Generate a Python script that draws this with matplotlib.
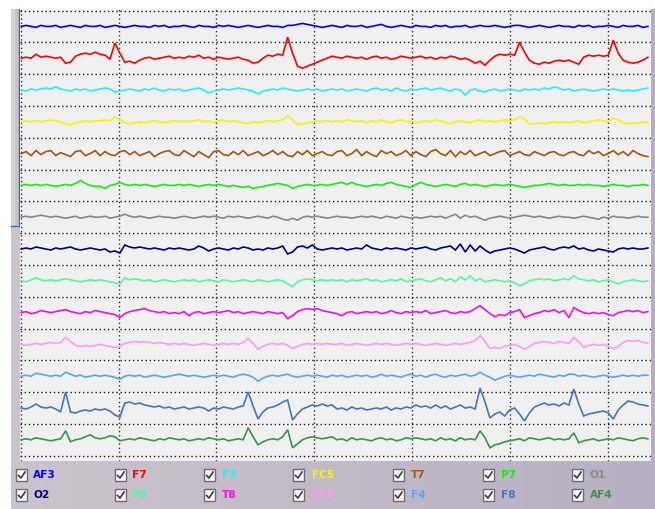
import numpy as np
import matplotlib
matplotlib.use("Agg")
import matplotlib.pyplot as plt
from matplotlib.patches import Rectangle
from matplotlib.lines import Line2D

# ---------------- data (deviation of each trace from its baseline, in display units) ----------------
channels = ["AF3", "F7", "F3", "FC5", "T7", "P7", "O1",
            "O2", "P8", "T8", "FC6", "F4", "F8", "AF4"]
colors = ["#0000ff", "#ff0000", "#22eeff", "#f5f500", "#a5560f", "#11ee11", "#888888",
          "#000088", "#55f5a5", "#f010e8", "#ff99f5", "#55a5ff", "#4477bb", "#339944"]

AF3 = [0,1,0,-1,1,0,0,1,-1,0,1,0,-1,1,0,0,
       1,-1,0,1,0,-1,0,1,0,0,-1,1,0,1,-1,0,
       0,1,0,-1,1,0,0,-1,1,0,1,0,-1,0,1,0,
       -1,0,1,0,0,-1,1,1,2,3,2,1,0,-1,0,1,
       0,-1,1,0,0,1,-1,0,1,2,0,-1,0,1,0,-1,
       1,0,0,-1,1,0,1,-1,0,0,1,-1,0,1,0,0,
       1,0,-1,0,1,1,0,-1,0,1,0,-1,0,1,0,0,
       -1,1,0,1,-1,0,0,1,0,-1,1,0,0,1,-1,0]
F7 = [0,1,0,4,1,2,1,0,1,-5,-4,2,4,5,4,6,
      4,3,-1,15,5,-4,-3,-5,-2,0,1,-1,0,1,2,0,
      1,0,2,1,3,0,1,-1,1,0,-1,0,1,-1,-2,-5,
      -4,0,3,2,4,3,21,5,-8,-10,-8,-6,-4,-2,0,2,
      1,0,2,1,0,1,-1,1,2,0,1,-1,0,2,1,0,
      1,2,0,1,-1,1,0,2,1,-1,0,-2,-5,-3,-7,-2,
      2,4,3,4,3,16,6,-2,-5,-6,-4,-5,-3,-2,-3,-2,
      -4,-6,1,3,2,3,2,3,18,5,-2,-4,-5,-4,-2,1]
F3 = [0,-1,1,0,1,2,1,3,1,0,-1,1,0,1,-1,0,
      1,2,1,-2,-1,0,1,0,-1,1,0,2,0,-1,1,0,
      1,-1,0,1,2,0,-3,-1,0,1,0,1,2,1,0,-1,
      -4,-1,0,1,0,2,1,0,-1,0,1,0,1,-1,0,1,
      0,1,-1,0,1,0,-1,1,2,0,1,-1,2,0,-1,1,
      0,1,2,0,1,2,0,-1,1,0,-5,0,1,-1,-2,0,
      1,-1,0,1,0,-1,1,0,1,0,2,1,3,2,0,1,
      -1,0,1,0,-1,0,1,0,1,0,-1,0,-1,0,1,2]
FC5 = [0,1,0,1,0,1,2,1,0,-2,-3,-1,0,1,0,1,
       1,2,1,5,2,-1,-2,-1,0,-1,0,1,0,-1,0,1,
       0,1,0,1,2,0,1,-1,1,2,0,1,0,-1,-2,0,
       -1,0,1,0,1,2,6,2,-3,-2,-1,0,1,0,1,0,
       1,0,2,1,0,1,-1,1,0,2,0,-1,1,2,0,1,
       -1,0,1,0,2,1,-1,-2,0,1,0,-1,1,2,0,1,
       0,1,2,1,2,5,3,-2,-2,-1,-2,-1,0,-1,0,-1,
       0,1,-1,0,1,2,1,0,4,2,-1,-2,-1,-2,0,-1]
T7 = [0,2,-2,3,-1,2,3,-2,1,-1,-3,2,3,-2,0,3,
      -2,2,-1,-2,2,3,-1,2,-2,0,2,-3,0,2,3,-1,
      -2,3,0,-3,2,-1,-4,2,3,-1,-2,2,-1,3,-2,0,
      2,-2,0,3,-1,2,-2,-3,2,-1,3,-2,0,2,-1,-2,
      2,3,-2,0,4,-2,2,-1,-3,3,0,2,-2,0,3,-2,
      2,-1,-3,2,4,0,-2,3,-3,2,-1,3,-2,0,2,-2,
      0,2,3,-2,0,2,-1,-2,2,0,-2,1,2,-1,-2,1,
      2,-1,-2,3,0,2,-2,0,3,-1,2,-2,3,0,-2,-3]
P7 = [0,1,0,1,0,1,0,-1,0,1,0,2,5,2,0,-1,
      -1,-3,0,1,3,1,0,1,0,1,0,-1,0,1,0,0,
      1,0,1,0,-1,0,1,0,1,0,-1,0,-1,-2,-1,-3,
      -2,-1,0,1,2,1,0,-3,-1,0,1,0,0,1,0,1,
      2,3,1,3,1,0,-1,0,1,0,2,3,1,0,-1,-2,
      1,3,1,0,-1,0,1,0,-1,1,2,0,1,0,-1,0,
      1,0,0,1,0,-1,-2,-1,0,0,1,2,1,0,1,0,
      0,1,0,1,0,0,-1,0,1,0,0,-1,0,0,1,0]
O1 = [0,1,0,1,2,1,0,1,0,-1,0,1,-1,0,1,0,
      0,1,-1,0,1,3,1,0,1,0,-1,0,1,0,0,-1,
      0,1,0,-1,0,1,0,1,0,-1,1,0,1,0,-1,0,
      1,0,-1,1,0,-2,-3,-1,-3,0,1,0,1,0,-1,0,
      1,0,0,-1,0,1,0,1,0,-1,1,0,-1,1,0,-1,
      0,-1,0,1,0,1,-1,1,3,-1,2,0,1,-1,-3,-1,
      0,1,0,-1,0,1,2,1,0,1,0,-1,0,1,0,0,
      -1,0,1,0,-1,-2,0,-1,1,0,0,-1,0,1,0,0]
O2 = [0,1,0,2,1,0,-1,1,0,1,2,0,-1,0,1,0,
      -1,0,-3,-2,-4,4,2,1,2,1,0,1,0,-1,1,0,
      1,0,-1,0,3,1,-2,0,1,0,-1,1,0,2,1,-1,
      0,-1,1,0,1,3,-5,-3,2,3,1,4,0,-1,0,1,
      0,1,-1,0,1,0,4,1,0,-1,1,0,1,0,-1,1,
      0,1,2,0,-1,1,2,3,-1,5,-3,4,-2,3,-1,-4,
      -2,-1,0,1,0,-2,-4,-1,0,1,2,0,-1,1,2,1,
      3,0,1,-1,-2,0,-1,-2,-3,0,1,0,1,0,0,1]
P8 = [0,-1,1,3,1,0,1,0,1,2,1,0,-1,0,1,0,
      1,0,-1,-2,-3,3,1,2,1,0,1,-1,0,1,0,-1,
      0,1,0,1,-1,0,1,0,-1,1,0,-1,0,1,0,-1,
      1,0,-1,0,1,0,-3,-6,-1,1,2,1,0,1,0,1,
      0,1,-1,1,0,1,2,0,1,-1,0,1,0,2,-1,0,
      1,2,0,-1,1,3,0,2,-1,4,1,5,0,2,-1,0,
      1,0,-1,0,-2,-5,-3,0,1,2,1,2,0,1,2,1,
      5,2,1,0,1,-1,0,1,-1,-3,-1,0,1,0,-1,0]
T8 = [0,1,-1,0,2,1,0,1,2,3,1,0,-1,1,0,2,
      1,0,-1,-2,-5,-1,1,2,3,4,2,1,0,1,-1,0,
      -1,1,-3,0,1,-1,0,1,0,1,2,0,1,-1,0,1,
      0,-1,1,0,-1,0,-6,-3,1,3,4,3,4,2,1,0,
      -1,-3,0,1,-1,0,1,0,1,-1,0,2,0,-1,1,0,
      1,0,2,-1,0,1,2,0,-1,1,0,1,4,7,3,-1,
      -4,-2,-3,0,1,3,-5,-3,-1,0,2,1,3,0,2,-5,
      5,2,0,-1,0,-1,0,-2,-3,0,1,2,1,2,0,1]
FC6 = [0,-1,0,1,0,1,2,1,2,7,3,-1,-2,-1,-2,-1,
       0,-1,-2,-3,-2,1,2,3,2,3,2,1,2,1,0,1,
       0,1,0,-1,0,1,0,-1,0,1,0,1,0,2,6,1,
       -5,-2,0,1,0,1,-1,-4,-2,0,1,0,1,0,1,0,
       0,1,-1,0,1,0,-1,0,1,0,1,0,-1,0,1,0,
       1,0,-1,0,1,0,-1,0,1,0,1,2,4,9,3,-4,
       -3,-4,-2,-1,0,-2,-5,-2,1,2,3,2,1,3,2,1,
       7,3,-3,-1,0,-1,0,-2,-4,-2,2,4,3,4,2,1]
F4 = [0,1,0,3,2,1,0,1,0,4,2,0,1,-1,0,1,
      0,1,0,-1,-3,0,1,0,1,-1,0,1,0,-1,0,1,
      2,1,0,1,0,-1,0,1,0,1,0,-1,1,2,1,-1,
      -5,-2,0,1,0,1,2,0,-1,0,1,0,1,0,-1,1,
      0,1,-1,0,1,0,1,-1,0,2,0,1,0,-1,1,2,
      0,1,-1,1,2,0,-1,1,0,1,2,0,1,4,1,-1,
      -4,-2,0,1,0,-1,0,1,0,2,1,0,-1,1,0,2,
      2,0,1,0,-1,0,1,0,-1,0,1,0,1,0,1,1]
F8 = [0,-1,1,4,1,0,1,-1,-4,16,-4,-5,-3,-2,-3,-1,
      -2,-1,-3,-7,-9,5,6,4,5,3,2,1,2,0,1,-1,
      0,1,-1,0,1,0,-3,0,-1,1,0,-1,1,2,16,2,
      -11,-4,0,1,3,6,8,-12,-6,-1,1,3,2,4,2,3,
      -1,0,-2,1,-1,0,-2,-1,0,-1,1,-2,0,-1,1,0,
      3,1,2,0,3,0,2,-1,1,3,0,1,-1,20,6,-10,
      -6,-4,-8,-2,0,-6,-13,-5,1,3,5,3,4,2,5,3,
      19,4,-8,-6,-5,-4,-3,-5,-11,-2,3,7,6,4,3,2]
AF4 = [0,1,0,2,1,0,-1,0,1,9,-2,0,1,3,5,2,
       1,2,4,3,-1,0,1,0,2,1,0,-1,1,0,2,1,
       0,1,-1,0,1,0,2,1,0,1,-1,0,1,0,12,3,
       -5,-2,0,1,0,3,10,-8,-4,0,2,3,2,1,2,3,
       0,1,-1,2,0,1,0,-1,1,2,0,1,-1,0,2,1,
       2,1,0,1,-1,2,0,1,-1,2,0,1,0,9,2,-8,
       -5,-4,-2,-1,0,1,-1,2,1,0,1,2,0,1,0,1,
       7,-3,-1,0,1,-1,0,1,0,2,1,0,-1,1,2,1]

series = [AF3, F7, F3, FC5, T7, P7, O1, O2, P8, T8, FC6, F4, F8, AF4]
legend_rows = [channels[:7], channels[7:]]

# ---------------- figure ----------------
W, H = 655, 509
fig = plt.figure(figsize=(W / 100, H / 100), dpi=100)
fig.patch.set_facecolor("white")

def fx(px):
    return px / W

def fy(py):
    return 1 - py / H

# background gradient (window frame)
bg = fig.add_axes([0, 0, 1, 1], zorder=-10)
grad = np.linspace(0, 1, 256)[None, :]
c0 = np.array([0.80, 0.77, 0.80])
c1 = np.array([0.72, 0.69, 0.76])
img = c0[None, None, :] * (1 - grad[..., None]) + c1[None, None, :] * grad[..., None]
bg.imshow(img, aspect="auto", extent=[0, 1, 0, 1])
bg.set_xlim(0, 1); bg.set_ylim(0, 1)
bg.axis("off")

def rect_px(x0, y0, x1, y1, **kw):
    r = Rectangle((fx(x0), fy(y1)), fx(x1) - fx(x0), fy(y0) - fy(y1),
                  transform=fig.transFigure, **kw)
    fig.add_artist(r)
    return r

# white top strip and left strip
rect_px(0, 0, W, 9, facecolor="white", edgecolor="none", zorder=1)
rect_px(0, 0, 11, H, facecolor="white", edgecolor="none", zorder=1)
# scrollbar thumb
rect_px(11, 9, 18, 226, facecolor="#c6c6c6", edgecolor="none", zorder=1)
rect_px(11, 9, 15, 226, facecolor="#d4d4d4", edgecolor="none", zorder=1)
fig.add_artist(Line2D([fx(18.5), fx(18.5)], [fy(9), fy(226)], color="#3f6db5", lw=1.0,
                      transform=fig.transFigure, zorder=2))
fig.add_artist(Line2D([fx(11), fx(18.5)], [fy(225.5), fy(225.5)], color="#3f6db5", lw=1.0,
                      transform=fig.transFigure, zorder=2))

# ---------------- plot area ----------------
ax_left, ax_right, ax_top, ax_bot = 20, 651, 9, 461
ax = fig.add_axes([fx(ax_left), fy(ax_bot), fx(ax_right) - fx(ax_left), fy(ax_top) - fy(ax_bot)], zorder=5)
ax.set_facecolor("#f0f0f0")

px_per_sec = 97.9
band = 31.8
first_grid = 10.5  # pixel row of first horizontal grid line
x_max = (ax_right - ax_left - 0.7) / px_per_sec
ax.set_xlim(-0.007, x_max)
ax.set_ylim(ax_bot - ax_top, 0)  # pixel units, downward

grid_rows = [first_grid - ax_top + k * band for k in range(15)]
for gy in grid_rows:
    ax.axhline(gy, color="#1a1a1a", lw=1.0, ls=(0, (1, 2)), zorder=1)
for gx in range(7):
    ax.axvline(gx, color="#333333", lw=1.0, ls=(0, (1, 2)), zorder=1)

step = 0.0504
for k, (vals, col) in enumerate(zip(series, colors)):
    v = np.asarray(vals, dtype=float)
    t = 0.005 + np.arange(len(v)) * step
    center = first_grid - ax_top + (k + 0.5) * band
    ax.plot(t, center - v, color=col, lw=1.2, zorder=3, solid_joinstyle="miter")

ax.set_xticks([]); ax.set_yticks([])
for s in ax.spines.values():
    s.set_visible(False)

# ---------------- legend with check boxes ----------------
box_x = [16, 115, 204, 293, 393, 483, 572]
lab_x = [33, 132, 222, 312, 411, 501, 590]
row_y = [475, 495]
for r, names in enumerate(legend_rows):
    for c, name in enumerate(names):
        idx = channels.index(name)
        bx, cy = box_x[c], row_y[r]
        rect_px(bx, cy - 6, bx + 11, cy + 6, facecolor="#f7f7f7", edgecolor="#6e6e6e", lw=1.0, zorder=6)
        fig.add_artist(Line2D([fx(bx + 2.5), fx(bx + 5), fx(bx + 9)],
                              [fy(cy + 0.5), fy(cy + 3), fy(cy - 3)],
                              color="#3c3c3c", lw=1.2, transform=fig.transFigure, zorder=7))
        fig.text(fx(lab_x[c]), fy(cy), name, color=colors[idx], fontsize=7.6,
                 fontweight="bold", family="DejaVu Sans", ha="left", va="center", zorder=8)

fig.savefig("out.png", dpi=100, facecolor=fig.get_facecolor())
